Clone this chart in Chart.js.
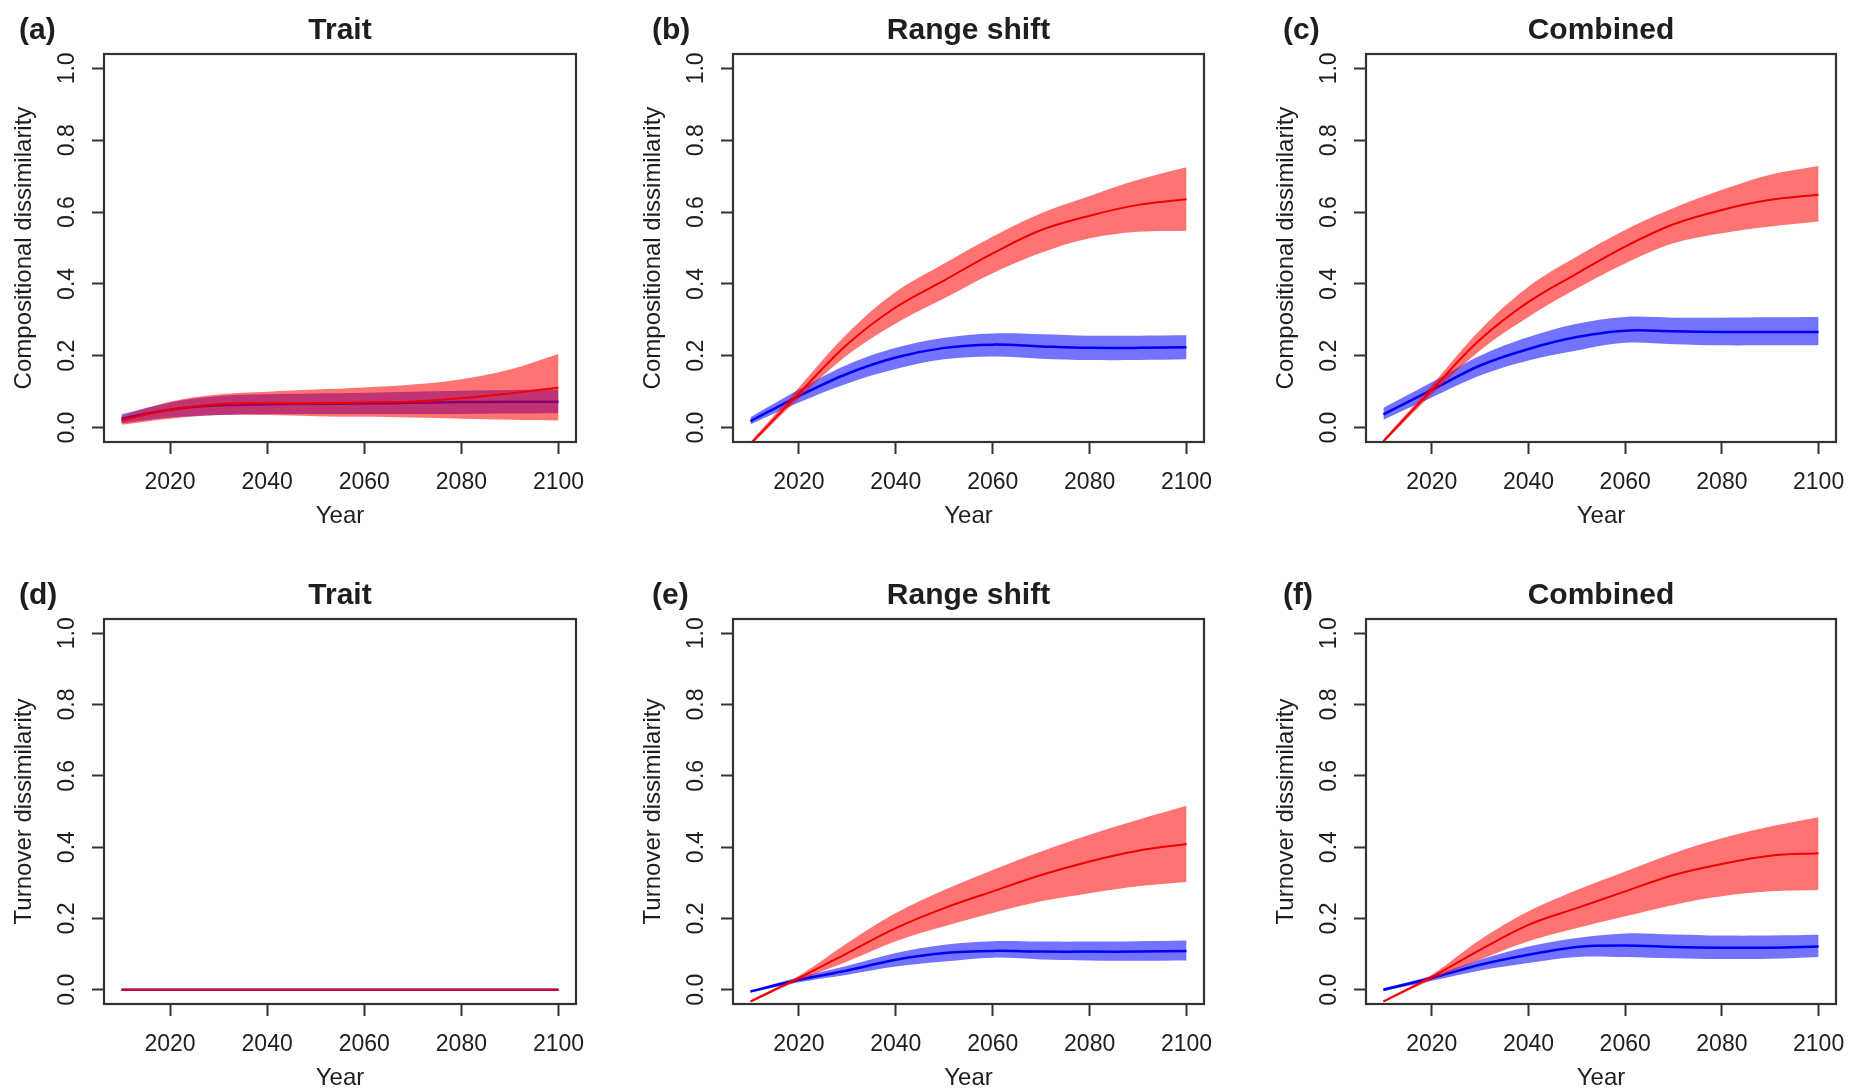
<!DOCTYPE html>
<html>
<head>
<meta charset="utf-8">
<script src="https://cdn.jsdelivr.net/npm/chart.js@4.4.1/dist/chart.umd.min.js"></script>
<style>
  html, body { margin: 0; padding: 0; background: #fff; overflow: hidden; }
  body { width: 1849px; height: 1090px; position: relative; }
  canvas { position: absolute; }
</style>
</head>
<body>
<canvas id="pa"></canvas>
<canvas id="pb"></canvas>
<canvas id="pc"></canvas>
<canvas id="pd"></canvas>
<canvas id="pe"></canvas>
<canvas id="pf"></canvas>
<script>
// x values and axis ticks
const years = [2010, 2020, 2030, 2040, 2050, 2060, 2070, 2080, 2090, 2100];
const yearTicks = [2020, 2040, 2060, 2080, 2100];
const dissimTicks = [0, 0.2, 0.4, 0.6, 0.8, 1.0];

const panelLetters = ['(a)', '(b)', '(c)', '(d)', '(e)', '(f)'];
const panelTitles = ['Trait', 'Range shift', 'Combined', 'Trait', 'Range shift', 'Combined'];
const yLabels = ['Compositional dissimilarity', 'Compositional dissimilarity', 'Compositional dissimilarity',
                 'Turnover dissimilarity', 'Turnover dissimilarity', 'Turnover dissimilarity'];

// (a) trait, compositional
const traitCompRed    = [0.020, 0.050, 0.065, 0.068, 0.068, 0.070, 0.073, 0.082, 0.095, 0.112];
const traitCompRedLo  = [0.008, 0.025, 0.035, 0.035, 0.032, 0.030, 0.028, 0.025, 0.022, 0.020];
const traitCompRedHi  = [0.032, 0.072, 0.092, 0.100, 0.106, 0.112, 0.120, 0.135, 0.162, 0.205];
const traitCompBlue   = [0.025, 0.050, 0.062, 0.065, 0.066, 0.067, 0.069, 0.071, 0.072, 0.072];
const traitCompBlueLo = [0.012, 0.028, 0.035, 0.038, 0.038, 0.038, 0.038, 0.038, 0.039, 0.040];
const traitCompBlueHi = [0.037, 0.070, 0.088, 0.093, 0.095, 0.097, 0.100, 0.103, 0.105, 0.106];

// (b) range shift, compositional
const rangeCompRed    = [-0.045, 0.095, 0.232, 0.335, 0.410, 0.485, 0.550, 0.590, 0.620, 0.636];
const rangeCompRedLo  = [-0.050, 0.082, 0.202, 0.290, 0.360, 0.430, 0.487, 0.527, 0.545, 0.548];
const rangeCompRedHi  = [-0.040, 0.112, 0.262, 0.378, 0.457, 0.532, 0.597, 0.645, 0.690, 0.725];
const rangeCompBlue   = [0.018, 0.088, 0.150, 0.195, 0.222, 0.231, 0.226, 0.222, 0.222, 0.224];
const rangeCompBlueLo = [0.009, 0.070, 0.123, 0.163, 0.190, 0.198, 0.192, 0.188, 0.188, 0.190];
const rangeCompBlueHi = [0.029, 0.106, 0.175, 0.222, 0.250, 0.262, 0.260, 0.256, 0.256, 0.257];

// (c) combined, compositional
const combCompRed    = [-0.038, 0.105, 0.245, 0.350, 0.429, 0.504, 0.566, 0.606, 0.634, 0.648];
const combCompRedLo  = [-0.043, 0.092, 0.215, 0.308, 0.387, 0.457, 0.513, 0.541, 0.560, 0.574];
const combCompRedHi  = [-0.033, 0.118, 0.272, 0.392, 0.476, 0.550, 0.611, 0.662, 0.704, 0.728];
const combCompBlue   = [0.037, 0.105, 0.173, 0.219, 0.252, 0.270, 0.268, 0.266, 0.266, 0.266];
const combCompBlueLo = [0.022, 0.084, 0.145, 0.187, 0.215, 0.236, 0.232, 0.229, 0.229, 0.229];
const combCompBlueHi = [0.055, 0.126, 0.200, 0.252, 0.289, 0.308, 0.306, 0.306, 0.307, 0.308];

// (d) trait, turnover
const traitTurnRed  = [0, 0, 0, 0, 0, 0, 0, 0, 0, 0];
const traitTurnBlue = [0, 0, 0, 0, 0, 0, 0, 0, 0, 0];

// (e) range shift, turnover
const rangeTurnRed    = [-0.033, 0.033, 0.103, 0.173, 0.229, 0.276, 0.322, 0.360, 0.390, 0.409];
const rangeTurnRedLo  = [-0.036, 0.026, 0.079, 0.136, 0.178, 0.215, 0.248, 0.271, 0.290, 0.302];
const rangeTurnRedHi  = [-0.030, 0.039, 0.131, 0.215, 0.280, 0.336, 0.388, 0.435, 0.477, 0.516];
const rangeTurnBlue   = [-0.005, 0.028, 0.054, 0.084, 0.103, 0.109, 0.107, 0.107, 0.107, 0.109];
const rangeTurnBlueLo = [-0.008, 0.021, 0.042, 0.065, 0.079, 0.090, 0.085, 0.082, 0.081, 0.082];
const rangeTurnBlueHi = [-0.002, 0.035, 0.067, 0.103, 0.126, 0.136, 0.135, 0.135, 0.136, 0.138];

// (f) combined, turnover
const combTurnRed    = [-0.033, 0.036, 0.112, 0.182, 0.229, 0.276, 0.322, 0.353, 0.376, 0.383];
const combTurnRedLo  = [-0.036, 0.028, 0.084, 0.136, 0.173, 0.206, 0.238, 0.262, 0.276, 0.280];
const combTurnRedHi  = [-0.030, 0.042, 0.140, 0.220, 0.280, 0.332, 0.383, 0.425, 0.458, 0.484];
const combTurnBlue   = [0.000, 0.033, 0.070, 0.098, 0.120, 0.124, 0.120, 0.118, 0.118, 0.121];
const combTurnBlueLo = [-0.004, 0.025, 0.054, 0.075, 0.092, 0.092, 0.088, 0.086, 0.087, 0.092];
const combTurnBlueHi = [0.004, 0.039, 0.084, 0.121, 0.145, 0.158, 0.155, 0.152, 0.152, 0.154];

const panels = [
  {id: 'pa', red: [traitCompRed, traitCompRedLo, traitCompRedHi], blue: [traitCompBlue, traitCompBlueLo, traitCompBlueHi]},
  {id: 'pb', red: [rangeCompRed, rangeCompRedLo, rangeCompRedHi], blue: [rangeCompBlue, rangeCompBlueLo, rangeCompBlueHi]},
  {id: 'pc', red: [combCompRed, combCompRedLo, combCompRedHi], blue: [combCompBlue, combCompBlueLo, combCompBlueHi]},
  {id: 'pd', red: [traitTurnRed, traitTurnRed, traitTurnRed], blue: [traitTurnBlue, traitTurnBlue, traitTurnBlue]},
  {id: 'pe', red: [rangeTurnRed, rangeTurnRedLo, rangeTurnRedHi], blue: [rangeTurnBlue, rangeTurnBlueLo, rangeTurnBlueHi]},
  {id: 'pf', red: [combTurnRed, combTurnRedLo, combTurnRedHi], blue: [combTurnBlue, combTurnBlueLo, combTurnBlueHi]}
];

// plot box of every panel on the page (px), gap = distance from letter to box
const boxes = [
  {l: 104, r: 576, t: 54, b: 442, gap: 85},
  {l: 733, r: 1204, t: 54, b: 442, gap: 81},
  {l: 1366, r: 1836, t: 54, b: 442, gap: 83},
  {l: 104, r: 576, t: 619, b: 1004, gap: 85},
  {l: 733, r: 1204, t: 619, b: 1004, gap: 81},
  {l: 1366, r: 1836, t: 619, b: 1004, gap: 83}
];

const fontFamily = '"Liberation Sans", Arial, Helvetica, sans-serif';
const inkColor = '#1e1e1e';
const frameColor = '#333';
const redLine = '#f00000';
const redBand = 'rgba(255,0,0,0.55)';
const blueLine = '#0000f0';
const blueBand = 'rgba(0,0,255,0.55)';

function pts(ys) {
  return years.map((x, i) => ({x: x, y: ys[i]}));
}

const framePlugin = {
  id: 'frame',
  afterDatasetsDraw(chart) {
    const {ctx, chartArea: a} = chart;
    ctx.save();
    ctx.strokeStyle = frameColor;
    ctx.lineWidth = 2.2;
    ctx.strokeRect(a.left, a.top, a.right - a.left, a.bottom - a.top);
    ctx.restore();
  }
};

const tickGrid = {
  display: true,
  drawOnChartArea: false,
  drawTicks: true,
  tickLength: 12,
  tickWidth: 2,
  tickColor: frameColor,
  color: frameColor
};

function makeChart(p, i) {
  const box = boxes[i];
  const left = box.l - 105;
  const top = box.t - 55;
  const w = box.r + 13 - left;
  const h = box.b + 100 - top;
  const cv = document.getElementById(p.id);
  cv.width = w;
  cv.height = h;
  cv.style.left = left + 'px';
  cv.style.top = top + 'px';
  cv.style.width = w + 'px';
  cv.style.height = h + 'px';

  const band = {borderColor: 'transparent', borderWidth: 0, pointRadius: 0};
  new Chart(cv, {
    type: 'line',
    data: {
      datasets: [
        {label: 'red', data: pts(p.red[0]), borderColor: redLine, borderWidth: 2, order: 1},
        Object.assign({label: 'red upper', data: pts(p.red[2]), backgroundColor: redBand, fill: '+1', order: 2}, band),
        Object.assign({label: 'red lower', data: pts(p.red[1]), fill: false, order: 2}, band),
        {label: 'blue', data: pts(p.blue[0]), borderColor: blueLine, borderWidth: 2.5, order: 3},
        Object.assign({label: 'blue upper', data: pts(p.blue[2]), backgroundColor: blueBand, fill: '+1', order: 4}, band),
        Object.assign({label: 'blue lower', data: pts(p.blue[1]), fill: false, order: 4}, band)
      ]
    },
    options: {
      responsive: false,
      animation: false,
      devicePixelRatio: 1,
      events: [],
      layout: {padding: {left: 105 - box.gap, right: 13, top: 0, bottom: 0}, autoPadding: false},
      elements: {
        point: {radius: 0},
        line: {tension: 0.35, capBezierPoints: false}
      },
      plugins: {
        legend: {display: false},
        tooltip: {enabled: false},
        title: {
          display: true,
          text: panelTitles[i],
          fullSize: false,
          align: 'center',
          color: inkColor,
          font: {family: fontFamily, size: 30, weight: 'bold', lineHeight: 1},
          padding: {top: 17, bottom: 8}
        },
        subtitle: {
          display: true,
          text: panelLetters[i],
          fullSize: true,
          align: 'start',
          weight: 3000,
          color: inkColor,
          font: {family: fontFamily, size: 30, weight: 'bold', lineHeight: 1},
          padding: {top: 17, bottom: -47}
        }
      },
      scales: {
        x: {
          type: 'linear',
          min: 2006.4,
          max: 2103.6,
          afterBuildTicks: s => { s.ticks = yearTicks.map(v => ({value: v})); },
          afterFit: s => { s.height = 100; s.paddingLeft = 0; s.paddingRight = 0; },
          ticks: {
            color: inkColor,
            font: {family: fontFamily, size: 23, lineHeight: 1},
            padding: 17,
            maxRotation: 0,
            autoSkip: false,
            callback: v => String(v)
          },
          grid: tickGrid,
          border: {display: false},
          title: {
            display: true,
            text: 'Year',
            color: inkColor,
            font: {family: fontFamily, size: 24, lineHeight: 1},
            padding: {top: 0, bottom: 14}
          }
        },
        y: {
          type: 'linear',
          min: -0.04,
          max: 1.04,
          afterBuildTicks: s => { s.ticks = dissimTicks.map(v => ({value: v})); },
          afterFit: s => { s.width = box.gap; s.paddingTop = 0; s.paddingBottom = 0; },
          ticks: {
            color: inkColor,
            font: {family: fontFamily, size: 23, lineHeight: 1},
            padding: 8,
            minRotation: 90,
            maxRotation: 90,
            crossAlign: 'center',
            autoSkip: false,
            callback: v => v.toFixed(1)
          },
          grid: tickGrid,
          border: {display: false},
          title: {
            display: true,
            text: yLabels[i],
            color: inkColor,
            font: {family: fontFamily, size: 24, lineHeight: 1},
            padding: {top: box.gap - 92, bottom: 0}
          }
        }
      }
    },
    plugins: [framePlugin]
  });
}

panels.forEach(makeChart);
</script>
</body>
</html>
